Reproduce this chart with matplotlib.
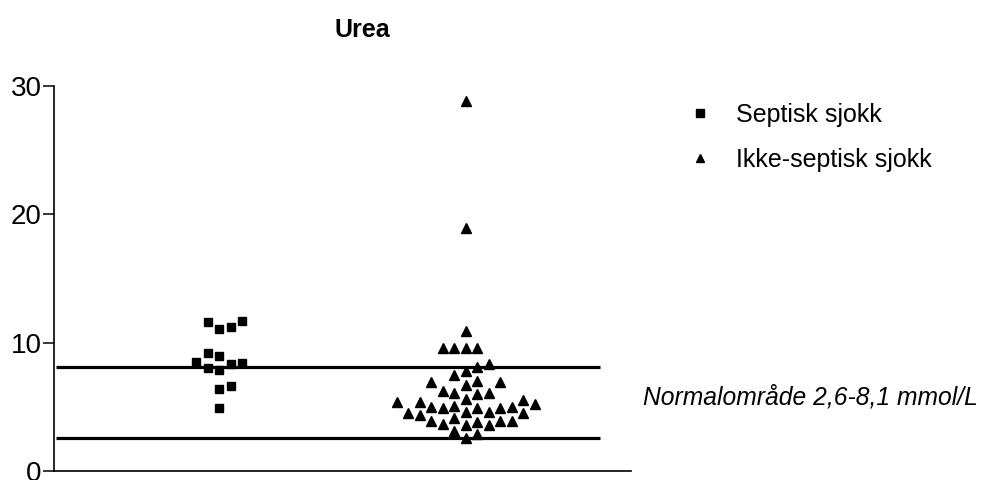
import numpy as np
import matplotlib.pyplot as plt

# Urea (mmol/L) per patient
septisk = [11.6, 11.1, 11.2, 11.7, 9.2, 9.0, 8.5, 8.3, 8.4, 7.9, 8.0, 6.6, 6.4, 4.9]
ikke_septisk = [28.8, 18.9, 10.9, 9.6, 9.6, 9.6, 9.6, 8.3, 8.1, 7.8, 7.5,
                7.0, 6.9, 6.9, 6.7, 6.2, 6.1, 6.1, 6.0,
                5.6, 5.5, 5.4, 5.4, 5.2, 5.1, 5.0, 5.0, 4.9, 4.9, 4.9,
                4.6, 4.6, 4.5, 4.5, 4.4, 4.1, 3.9, 3.9, 3.9, 3.85, 3.7, 3.6, 3.6,
                3.1, 2.9, 2.6]
grupper = ["Septisk sjokk", "Ikke-septisk sjokk"]
normal_lav, normal_hoy = 2.6, 8.1
yticks = [0, 10, 20, 30]

plt.rcParams['font.family'] = ['Liberation Sans', 'DejaVu Sans']


def swarm_slots(values, min_gap):
    # greedy column scatter: each point goes to the free slot closest to the centre
    values = np.asarray(values, dtype=float)
    slots = {}
    result = np.zeros(len(values))
    for i in np.argsort(values, kind='stable'):
        v = values[i]
        k = 0
        while True:
            cands = [0] if k == 0 else [k, -k]
            if k > 0 and len(slots.get(-k, [])) < len(slots.get(k, [])):
                cands = [-k, k]
            hit = None
            for s in cands:
                if all(abs(v - u) >= min_gap for u in slots.get(s, [])):
                    hit = s
                    break
            if hit is not None:
                slots.setdefault(hit, []).append(v)
                result[i] = hit
                break
            k += 1
    return result


fig = plt.figure(figsize=(9.98, 4.8), dpi=100)
ax = fig.add_axes([54 / 998, 9 / 480, 577 / 998, 385 / 480])

step = 0.0466
markers = ['s', '^']
sizes = [6.2, 6.6]
handles = []
for pos, (vals, m, ms, navn) in enumerate(zip([septisk, ikke_septisk], markers, sizes, grupper)):
    x = pos + swarm_slots(vals, 0.92) * step
    h, = ax.plot(x, vals, linestyle='none', marker=m, markersize=ms,
                 color='black', label=navn, clip_on=False)
    handles.append(h)

ax.hlines([normal_lav, normal_hoy], -0.66, 1.545, colors='black', linewidth=2.3)

ax.set_xlim(-0.669, 1.670)
ax.set_ylim(0, 30)
ax.set_yticks(yticks)
ax.set_xticks([])
for side in ['top', 'right']:
    ax.spines[side].set_visible(False)
for side in ['left', 'bottom']:
    ax.spines[side].set_linewidth(1.2)
ax.tick_params(axis='y', direction='out', length=8, width=1.1, pad=1, labelsize=20)

fig.text(362 / 998, 1 - 30 / 480, 'Urea', ha='center', va='center',
         fontsize=18, fontweight='bold')

ax.legend(handles=handles, loc='upper left', bbox_to_anchor=(687 / 998, 1 - 103 / 480),
          bbox_transform=fig.transFigure, frameon=False, fontsize=18,
          handlelength=1.0, handletextpad=0.95, borderpad=0, borderaxespad=0,
          labelspacing=0.82, markerscale=0.85)

fig.text(643 / 998, 1 - 397 / 480, 'Normalområde 2,6-8,1 mmol/L', ha='left', va='center',
         fontsize=17.7, style='italic')

fig.savefig('out.png', dpi=100)
